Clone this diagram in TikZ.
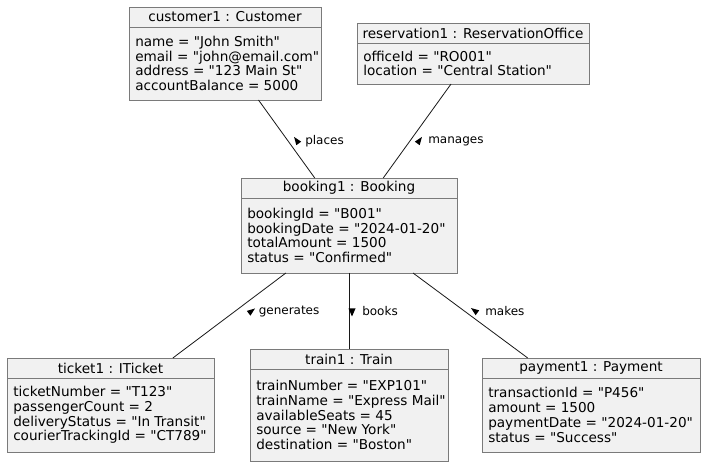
\documentclass[tikz,border=0pt]{standalone}
\usepackage{fontspec}
\newfontfamily\umlfont{DejaVu Sans}
\usetikzlibrary{calc}
\definecolor{objfill}{HTML}{F1F1F1}
\definecolor{objborder}{HTML}{7A7A7A}
\definecolor{linkcol}{HTML}{181818}
\tikzset{
  objbox/.style={draw=objborder, fill=objfill, line width=0.6pt, inner sep=0pt, outer sep=0pt, rectangle},
  objsep/.style={draw=objborder, line width=0.6pt},
  objtitle/.style={inner sep=0pt, font=\umlfont\fontsize{10.2}{12}\selectfont},
  objattr/.style={inner sep=0pt, align=left, anchor=west, font=\umlfont\fontsize{10.2}{11.1}\selectfont},
  link/.style={draw=linkcol, line width=0.6pt},
  dirtri/.style={fill=black},
  lbl/.style={inner sep=0pt, anchor=west, font=\umlfont\fontsize{9}{10}\selectfont},
}
\newcommand\umlobj[7]{%
  \node[objbox, anchor=north west, minimum width=#4*0.75pt, minimum height=#5*0.75pt] (#1) at (#2,#3) {};
  \draw[objsep] ($(#1.north west)+(0,20)$) -- ($(#1.north east)+(0,20)$);
  \node[objtitle] (#1-title) at ($(#1.north)+(0,10)$) {#6};
  \node[objattr] (#1-attrs) at ($(#1.west)+(6,10)$) {#7};
}
% #1 centre coordinate name, then apex and two base corners as offsets in px
\newcommand\dirmark[7]{%
  \fill[dirtri] ($(#1)+(#2,#3)$) -- ($(#1)+(#4,#5)$) -- ($(#1)+(#6,#7)$) -- cycle;
}
\begin{document}
\begin{tikzpicture}[x=0.75pt, y=-0.75pt]
  \useasboundingbox[fill=white] (0,0) rectangle (708,466);

  \umlobj{cust}{129}{7}{192}{93}{customer1 : Customer}{name = "John Smith"\\email = "john@email.com"\\address = "123 Main St"\\accountBalance = 5000}
  \umlobj{resv}{357}{23}{232}{61}{reservation1 : ReservationOffice}{officeId = "RO001"\\location = "Central Station"}
  \umlobj{book}{241}{178}{216}{95}{booking1 : Booking}{bookingId = "B001"\\bookingDate = "2024-01-20"\\totalAmount = 1500\\status = "Confirmed"}
  \umlobj{tick}{7}{358}{207}{94}{ticket1 : ITicket}{ticketNumber = "T123"\\passengerCount = 2\\deliveryStatus = "In Transit"\\courierTrackingId = "CT789"}
  \umlobj{train}{250}{349}{198}{112}{train1 : Train}{trainNumber = "EXP101"\\trainName = "Express Mail"\\availableSeats = 45\\source = "New York"\\destination = "Boston"}
  \umlobj{pay}{482}{358}{218}{94}{payment1 : Payment}{transactionId = "P456"\\amount = 1500\\paymentDate = "2024-01-20"\\status = "Success"}

  \draw[link] (cust) -- (book);
  \draw[link] (resv) -- (book);
  \draw[link] (book) -- (tick);
  \draw[link] (book) -- (train);
  \draw[link] (book) -- (pay);

  \coordinate (tri-places) at (297,141);
  \dirmark{tri-places}{-2.93}{-4.06}{4.19}{0.67}{-0.67}{4.19}
  \node[lbl] (lbl-places) at (305,141) {places};

  \coordinate (tri-manages) at (419,141);
  \dirmark{tri-manages}{2.93}{-4.06}{0.67}{4.19}{-4.19}{0.67}
  \node[lbl] (lbl-manages) at (428,141) {manages};

  \coordinate (tri-generates) at (251,311.5);
  \dirmark{tri-generates}{4.00}{-3.01}{-0.60}{4.20}{-4.20}{-0.60}
  \node[lbl] (lbl-generates) at (258.5,311.5) {generates};

  \coordinate (tri-books) at (352,311.5);
  \dirmark{tri-books}{0}{5}{-3.5}{-3}{3.5}{-3}
  \node[lbl] (lbl-books) at (362,311.5) {books};

  \coordinate (tri-makes) at (475,311);
  \dirmark{tri-makes}{-4.02}{-2.98}{4.20}{-0.62}{0.62}{4.20}
  \node[lbl] (lbl-makes) at (485,311) {makes};
\end{tikzpicture}
\end{document}
